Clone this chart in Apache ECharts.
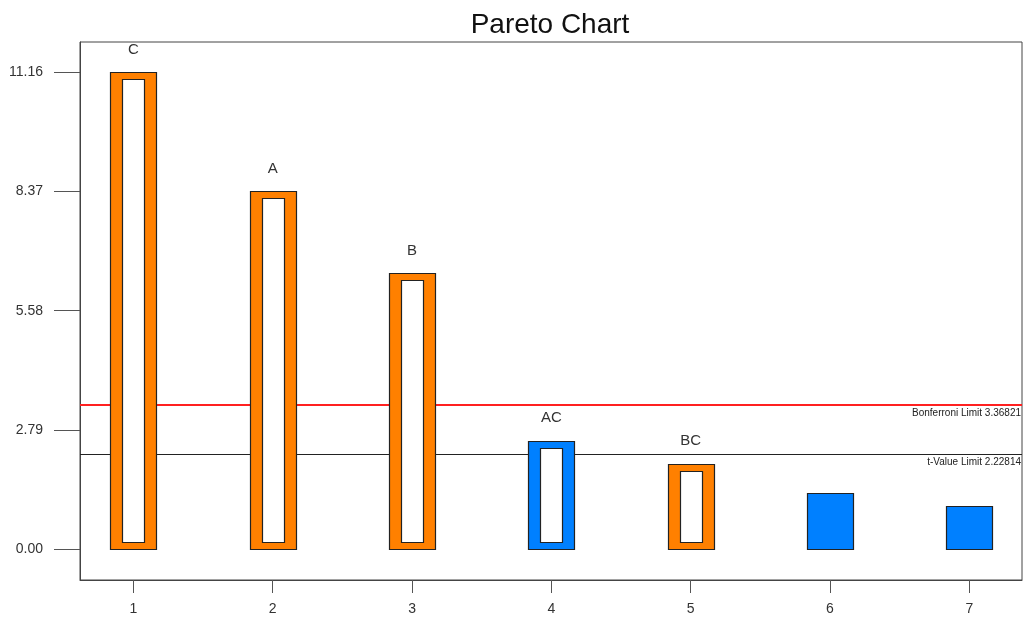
<!DOCTYPE html>
<html>
<head>
<meta charset="utf-8">
<script src="https://cdn.jsdelivr.net/npm/echarts@6/dist/echarts.min.js"></script>
<style>
  html, body { margin: 0; padding: 0; background: #fff; }
  #chart { width: 1023px; height: 618px; }
</style>
</head>
<body>
<div id="chart"></div>
<script>
// Effect ranks along the x axis
const ranks = [1, 2, 3, 4, 5, 6, 7];
// Term names printed above the bars (unlabelled terms left blank)
const termNames = ['C', 'A', 'B', 'AC', 'BC', '', ''];
// |t| value of each effect
const tValues = [11.16, 8.38, 6.45, 2.54, 2.00, 1.30, 1.01];
// Sign of each effect: positive terms are orange, negative terms blue
const effectSign = ['+', '+', '+', '-', '+', '-', '-'];
// Terms kept in the model are drawn hollow
const inModel = [true, true, true, true, true, false, false];
// Y-axis tick values
const yTicks = [0, 2.79, 5.58, 8.37, 11.16];
// Reference limits
const limitNames = ['Bonferroni Limit', 't-Value Limit'];
const limitValues = [3.36821, 2.22814];
const limitColors = ['#ff2020', '#222222'];
const limitWidths = [2, 1];

const FONT = '"Liberation Sans", Arial, sans-serif';
const ORANGE = '#ff8000';
const BLUE = '#0080ff';
const X_MIN = 0.617, X_MAX = 7.378;

const chart = echarts.init(document.getElementById('chart'), null, { renderer: 'canvas' });

// Bars: filled outer rectangle, hollow white core for terms in the model
function renderBar(params, api) {
  const idx = api.value(2);
  const topPt = api.coord([api.value(0), api.value(1)]);
  const basePt = api.coord([api.value(0), 0]);
  const w = 46;
  const left = Math.round(topPt[0] - w / 2) + 0.5;
  const top = Math.round(topPt[1]) + 0.5;
  const bottom = Math.round(basePt[1]) + 0.5;
  const h = bottom - top;
  const children = [{
    type: 'rect',
    shape: { x: left, y: top, width: w, height: h },
    style: { fill: effectSign[idx] === '+' ? ORANGE : BLUE, stroke: '#222', lineWidth: 1.2 }
  }];
  if (inModel[idx]) {
    children.push({
      type: 'rect',
      shape: { x: left + 12, y: top + 7, width: w - 24, height: h - 14 },
      style: { fill: '#ffffff', stroke: '#222', lineWidth: 1.2 }
    });
  }
  if (termNames[idx]) {
    children.push({
      type: 'text',
      style: {
        text: termNames[idx], x: topPt[0], y: topPt[1] - 15,
        align: 'center', verticalAlign: 'bottom',
        fontSize: 15, fontFamily: FONT, fill: '#333'
      }
    });
  }
  return { type: 'group', children: children };
}

// Limits: a horizontal line across the plot with its caption under the right end
function renderLimit(params, api) {
  const idx = api.value(1);
  const cs = params.coordSys;
  const lw = limitWidths[idx];
  const yRaw = api.coord([X_MIN, api.value(0)])[1];
  const y = lw % 2 === 0 ? Math.round(yRaw) : Math.round(yRaw) + 0.5;
  return {
    type: 'group',
    children: [{
      type: 'line',
      shape: { x1: cs.x, y1: y, x2: cs.x + cs.width, y2: y },
      style: { stroke: limitColors[idx], lineWidth: lw }
    }, {
      type: 'text',
      style: {
        text: limitNames[idx] + ' ' + limitValues[idx].toFixed(5),
        x: cs.x + cs.width - 1, y: Math.round(yRaw) + 3,
        align: 'right', verticalAlign: 'top',
        fontSize: 10, fontFamily: FONT, fill: '#222'
      }
    }]
  };
}

const option = {
  animation: false,
  title: {
    text: 'Pareto Chart',
    left: 545,
    textAlign: 'center',
    top: 6,
    textStyle: { fontFamily: FONT, fontSize: 28, fontWeight: 'normal', color: '#111' }
  },
  grid: {
    left: 80, top: 42, right: 1, bottom: 38,
    show: true, borderColor: '#444', borderWidth: 1, backgroundColor: '#fff'
  },
  xAxis: {
    type: 'value',
    min: X_MIN, max: X_MAX,
    splitLine: { show: false },
    axisLine: { show: true, onZero: false, lineStyle: { color: '#444' } },
    axisTick: { show: true, length: 13, customValues: ranks, lineStyle: { color: '#555' } },
    axisLabel: {
      customValues: ranks, margin: 22,
      fontFamily: FONT, fontSize: 14, color: '#333',
      formatter: v => String(v)
    }
  },
  yAxis: {
    type: 'value',
    min: -0.726, max: 11.87,
    splitLine: { show: false },
    axisLine: { show: true, onZero: false, lineStyle: { color: '#444' } },
    axisTick: { show: true, length: 26, customValues: yTicks, lineStyle: { color: '#555' } },
    axisLabel: {
      customValues: yTicks, margin: 37,
      fontFamily: FONT, fontSize: 14, color: '#333',
      formatter: v => v.toFixed(2)
    }
  },
  series: [{
    type: 'custom',
    z: 1,
    renderItem: renderLimit,
    clip: false,
    silent: true,
    data: limitValues.map((v, i) => [v, i]),
    encode: { y: 0 }
  }, {
    type: 'custom',
    z: 2,
    renderItem: renderBar,
    clip: false,
    data: ranks.map((r, i) => [r, tValues[i], i]),
    encode: { x: 0, y: 1 }
  }]
};

chart.setOption(option);
</script>
</body>
</html>
